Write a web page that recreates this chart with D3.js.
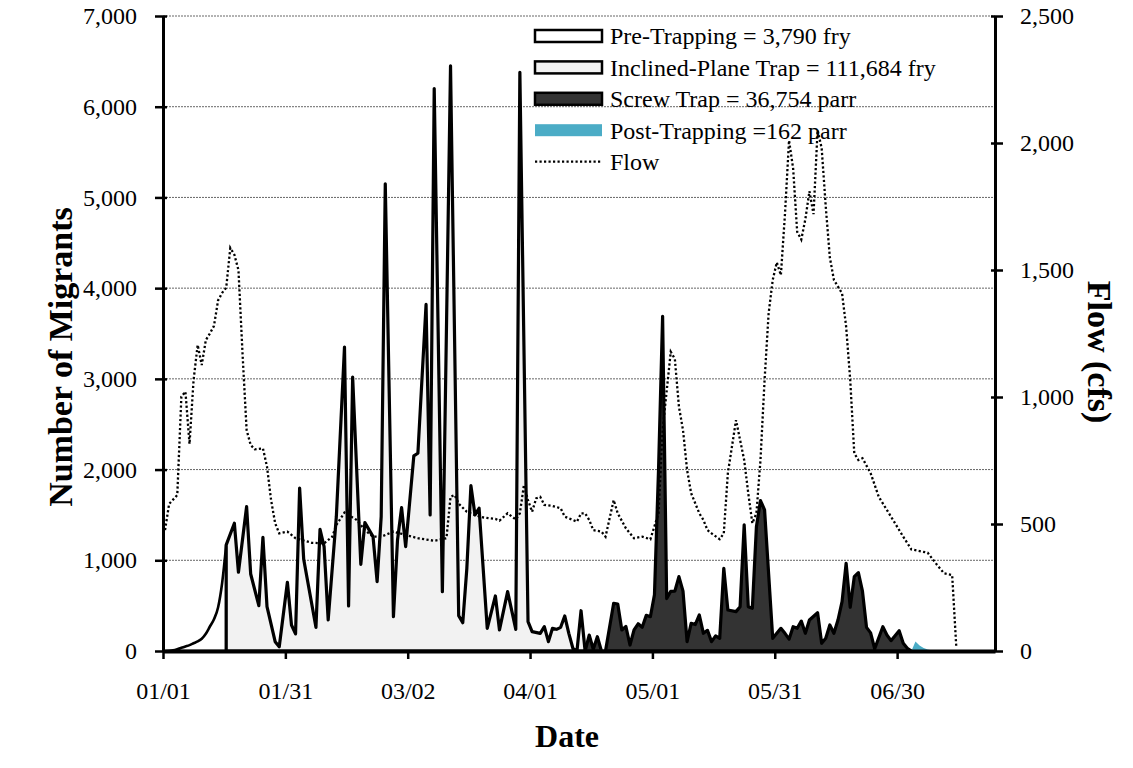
<!DOCTYPE html>
<html>
<head>
<meta charset="utf-8">
<script src="https://cdn.jsdelivr.net/npm/d3@7"></script>
<style>
  body { margin: 0; background: #fff; }
  text { font-family: "Liberation Serif", "Times New Roman", serif; }
</style>
</head>
<body>
<div id="chart"></div>
<script>
// ---- data (day offsets from 01/01, counts / cfs) ----
const xTickLabels = ["01/01", "01/31", "03/02", "04/01", "05/01", "05/31", "06/30"];
const leftTicks = [0, 1000, 2000, 3000, 4000, 5000, 6000, 7000];
const rightTicks = [0, 500, 1000, 1500, 2000, 2500];

const preDay = [0, 1, 2, 3, 4, 5, 6, 7, 8, 9, 10, 11, 12, 13, 14, 15];
const preCount = [0, 2, 8, 20, 35, 50, 65, 85, 105, 135, 190, 270, 350, 480, 750, 1170];

const inclinedDay = [15, 17, 18, 20, 21, 23, 24, 25, 27, 28, 30, 31, 32, 33, 34, 37, 38, 39, 40, 42,
  44, 45, 46, 48, 49, 51, 52, 53, 54, 56, 57, 58, 59, 61, 62, 64, 65, 66, 68, 70,
  72, 73, 74, 75, 76, 77, 79, 81, 82, 84, 86, 87, 89, 90, 92, 93, 94, 95, 96, 97,
  98, 99, 100, 101, 102, 103];
const inclinedCount = [1170, 1408, 868, 1592, 849, 500, 1254, 489, 103, 47, 758, 287, 188, 1795, 1011, 261, 1342, 1150, 342, 1480,
  3350, 496, 3020, 956, 1415, 1261, 764, 1481, 5150, 378, 1224, 1581, 1150, 2151, 2180, 3820, 1500, 6200, 654, 6450,
  390, 312, 912, 1823, 1500, 1574, 250, 607, 232, 654, 239, 6380, 323, 213, 195, 268, 103, 250, 239, 261,
  386, 195, 30, 0, 444, 0];

const screwDay = [103, 104, 105, 106, 107, 108, 110, 111, 112, 113, 114, 115, 116, 117, 118, 119, 120, 121, 122, 123,
  124, 125, 126, 127, 128, 129, 130, 131, 132, 133, 134, 135, 136, 137, 138, 140, 141, 142, 143, 144,
  145, 146, 147, 149, 151, 152, 153, 154, 155, 156, 157, 158, 160, 161, 162, 163, 164, 165, 166, 167,
  168, 169, 170, 171, 172, 173, 174, 176, 177, 178, 180, 181, 182, 183];
const screwCount = [0, 176, 20, 158, 0, 0, 526, 518, 232, 270, 66, 232, 300, 261, 393, 378, 620, 2000, 3690, 578,
  658, 660, 820, 660, 103, 305, 292, 397, 195, 228, 103, 167, 140, 912, 452, 434, 489, 1390, 489, 471,
  1370, 1658, 1555, 140, 250, 195, 130, 268, 250, 330, 195, 342, 422, 85, 140, 287, 195, 342, 544, 967,
  482, 820, 864, 660, 260, 200, 25, 268, 176, 114, 224, 85, 30, 0];

const postDay = [183, 184, 185, 186, 187, 188, 189, 190];
const postCount = [0, 105, 60, 32, 16, 7, 3, 0];

const flowDay = [0, 1, 3, 4, 5, 6, 7, 8, 9, 10, 11, 12, 13, 14, 15, 16, 17, 18, 19, 20,
  21, 22, 24, 25, 26, 27, 28, 30, 32, 36, 39, 41, 42, 44, 45, 47, 49, 51, 53, 56,
  59, 62, 66, 67, 69, 70, 71, 72, 74, 76, 78, 81, 82, 84, 86, 87, 88, 89, 90, 91,
  92, 93, 95, 97, 98, 100, 101, 102, 103, 104, 105, 107, 108, 110, 111, 113, 115, 117, 119, 121,
  122, 124, 125, 126, 127, 128, 129, 131, 132, 133, 134, 136, 137, 138, 140, 142, 143, 144, 145, 146,
  147, 148, 149, 150, 151, 152, 153, 154, 155, 156, 157, 158, 159, 160, 161, 162, 163, 164, 166, 167,
  168, 169, 170, 171, 173, 175, 178, 181, 183, 187, 189, 191, 193, 194];
const flowCfs = [476, 579, 614, 1001, 1021, 815, 1067, 1205, 1126, 1224, 1250, 1280, 1380, 1410, 1430, 1587, 1560, 1500, 1172, 870,
  811, 794, 798, 726, 594, 503, 463, 470, 444, 426, 424, 450, 496, 545, 535, 516, 476, 450, 450, 470,
  457, 444, 434, 437, 444, 607, 614, 580, 548, 535, 526, 520, 513, 542, 518, 542, 654, 594, 548, 601,
  607, 575, 571, 562, 529, 516, 509, 542, 542, 516, 476, 470, 450, 594, 542, 483, 444, 450, 440, 542,
  870, 1178, 1150, 962, 870, 713, 621, 542, 516, 476, 463, 440, 463, 700, 909, 752, 621, 503, 542, 752,
  1067, 1330, 1461, 1530, 1480, 1720, 2010, 1900, 1650, 1620, 1700, 1810, 1720, 2050, 1980, 1750, 1550, 1461, 1408, 1277,
  1067, 778, 752, 759, 700, 607, 529, 450, 400, 387, 345, 306, 299, 17];

const legendLabels = ["Pre-Trapping = 3,790 fry", "Inclined-Plane Trap = 111,684 fry",
  "Screw Trap = 36,754 parr", "Post-Trapping =162 parr", "Flow"];

// ---- layout ----
const width = 1133, height = 768;
const margin = { top: 16, right: 138, bottom: 117, left: 163 };

const parse = d3.timeParse("%m/%d");
const start = parse("01/01");
// points sit in the middle of their day slot
const dayDate = d => d3.timeHour.offset(start, d * 24 + 12);

const svg = d3.select("#chart").append("svg")
  .attr("width", width)
  .attr("height", height);

const x = d3.scaleTime()
  .domain([start, d3.timeDay.offset(start, 204)])
  .range([margin.left, width - margin.right]);

const yL = d3.scaleLinear().domain([0, 7000]).range([height - margin.bottom, margin.top]);
const yR = d3.scaleLinear().domain([0, 2500]).range([height - margin.bottom, margin.top]);

// gridlines
svg.append("g")
  .selectAll("line")
  .data(leftTicks.filter(v => v > 0))
  .join("line")
  .attr("x1", margin.left)
  .attr("x2", width - margin.right)
  .attr("y1", d => yL(d))
  .attr("y2", d => yL(d))
  .attr("stroke", "#666")
  .attr("stroke-width", 1)
  .attr("stroke-dasharray", "2,1");

function series(days, vals) {
  return days.map((d, i) => ({ date: dayDate(d), v: vals[i] }));
}

const area = d3.area()
  .x(d => x(d.date))
  .y0(yL(0))
  .y1(d => yL(d.v));

// areas
svg.append("path")
  .datum(series(preDay, preCount))
  .attr("fill", "#fff")
  .attr("stroke", "#000")
  .attr("stroke-width", 2.6)
  .attr("stroke-linejoin", "round")
  .attr("d", area.curve(d3.curveMonotoneX));

area.curve(d3.curveLinear);

svg.append("path")
  .datum(series(inclinedDay, inclinedCount))
  .attr("fill", "#f2f2f2")
  .attr("stroke", "#000")
  .attr("stroke-width", 3.2)
  .attr("stroke-linejoin", "round")
  .attr("d", area);

svg.append("path")
  .datum(series(screwDay, screwCount))
  .attr("fill", "#333")
  .attr("stroke", "#000")
  .attr("stroke-width", 3.2)
  .attr("stroke-linejoin", "round")
  .attr("d", area);

svg.append("path")
  .datum(series(postDay, postCount))
  .attr("fill", "#4bacc6")
  .attr("d", area);

// flow (right axis)
const flowLine = d3.line()
  .x(d => x(d.date))
  .y(d => yR(d.v));

svg.append("path")
  .datum(series(flowDay, flowCfs))
  .attr("fill", "none")
  .attr("stroke", "#000")
  .attr("stroke-width", 2.3)
  .attr("stroke-dasharray", "2.2,2.3")
  .attr("d", flowLine);

// axes
const fmt = d3.format(",");

const gL = svg.append("g")
  .attr("transform", `translate(${margin.left},0)`)
  .call(d3.axisLeft(yL).tickValues(leftTicks).tickFormat(fmt).tickSize(8).tickSizeOuter(0).tickPadding(18));

const gR = svg.append("g")
  .attr("transform", `translate(${width - margin.right},0)`)
  .call(d3.axisRight(yR).tickValues(rightTicks).tickFormat(fmt).tickSize(8).tickSizeOuter(0).tickPadding(17));

const gB = svg.append("g")
  .attr("transform", `translate(0,${height - margin.bottom})`)
  .call(d3.axisBottom(x).tickValues(xTickLabels.map(parse)).tickFormat(d3.timeFormat("%m/%d"))
    .tickSize(8).tickSizeOuter(0).tickPadding(23));

gL.select(".domain").attr("stroke-width", 3);
gR.select(".domain").attr("stroke-width", 3);
gB.select(".domain").attr("stroke-width", 4);
gL.selectAll(".tick line").attr("x1", 4).attr("stroke-width", 2.5);
gR.selectAll(".tick line").attr("x1", -4).attr("stroke-width", 2.5);
gB.selectAll(".tick line").attr("stroke-width", 2.5);

[gL, gR, gB].forEach(g => g.selectAll("text")
  .attr("font-family", '"Liberation Serif", serif')
  .attr("font-size", 24)
  .attr("fill", "#000"));

// axis titles
svg.append("text")
  .attr("transform", "translate(60,357) rotate(-90)")
  .attr("text-anchor", "middle")
  .attr("dy", "0.35em")
  .attr("font-size", 34)
  .attr("font-weight", "bold")
  .text("Number of Migrants");

svg.append("text")
  .attr("transform", "translate(1100,352) rotate(90)")
  .attr("text-anchor", "middle")
  .attr("dy", "0.35em")
  .attr("font-size", 34)
  .attr("font-weight", "bold")
  .text("Flow (cfs)");

svg.append("text")
  .attr("x", 567)
  .attr("y", 736)
  .attr("text-anchor", "middle")
  .attr("dy", "0.35em")
  .attr("font-size", 32)
  .attr("font-weight", "bold")
  .text("Date");

// legend
const legend = svg.append("g").attr("transform", "translate(534,36)");
const rowH = 31.4;
const swatches = [
  { fill: "#fff", stroke: "#000" },
  { fill: "#f2f2f2", stroke: "#000" },
  { fill: "#333", stroke: "#000" },
  { fill: "#4bacc6", stroke: "none" },
  { line: true }
];

legendLabels.forEach((label, i) => {
  const row = legend.append("g").attr("transform", `translate(0,${i * rowH})`);
  const s = swatches[i];
  if (s.line) {
    row.append("line")
      .attr("x1", 1).attr("x2", 68)
      .attr("y1", 0).attr("y2", 0)
      .attr("stroke", "#000")
      .attr("stroke-width", 2.3)
      .attr("stroke-dasharray", "2.2,2.3");
  } else {
    row.append("rect")
      .attr("x", 1).attr("y", -6)
      .attr("width", 67).attr("height", 12)
      .attr("fill", s.fill)
      .attr("stroke", s.stroke)
      .attr("stroke-width", s.stroke === "none" ? 0 : 2.5);
  }
  row.append("text")
    .attr("x", 76)
    .attr("y", 0)
    .attr("dy", "0.35em")
    .attr("font-size", 24)
    .text(label);
});
</script>
</body>
</html>
